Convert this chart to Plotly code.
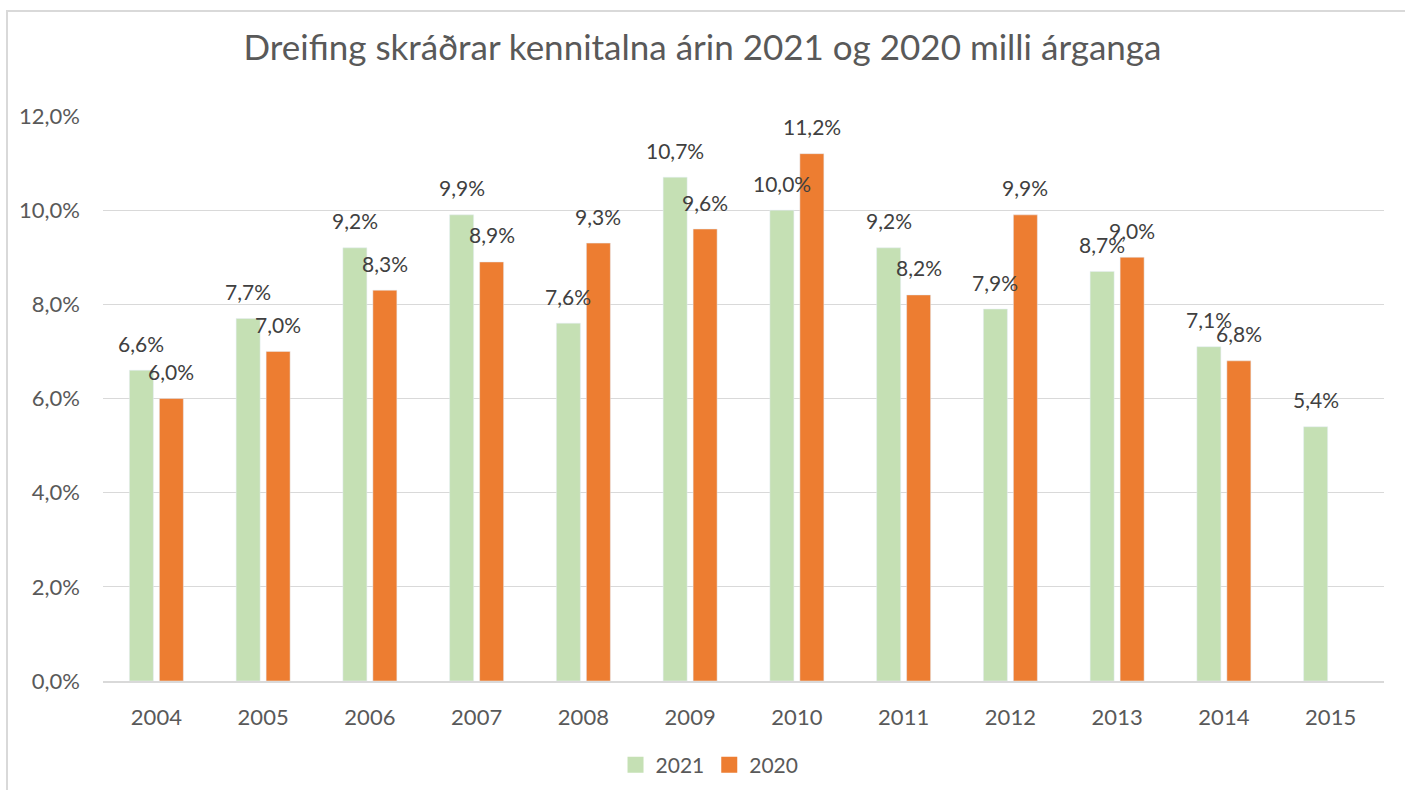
import plotly.graph_objects as go

years = ["2004", "2005", "2006", "2007", "2008", "2009", "2010", "2011", "2012", "2013", "2014", "2015"]
values_2021 = [6.6, 7.7, 9.2, 9.9, 7.6, 10.7, 10.0, 9.2, 7.9, 8.7, 7.1, 5.4]
values_2020 = [6.0, 7.0, 8.3, 8.9, 9.3, 9.6, 11.2, 8.2, 9.9, 9.0, 6.8, None]
series_names = ["2021", "2020"]
title_text = "Dreifing skráðrar kennitalna árin 2021 og 2020 milli árganga"

FONT = "Lato"
TXT = "#595959"
LBL = "#404040"
FS = 21
COLORS = ["#C5E0B4", "#ED7D31"]

fig = go.Figure()
for name, vals, col in zip(series_names, (values_2021, values_2020), COLORS):
    fig.add_trace(go.Bar(x=years, y=vals, name=name, marker_color=col,
                         showlegend=False, legendgroup=name))
# legend entries with larger square swatches
for name, col in zip(series_names, COLORS):
    fig.add_trace(go.Scatter(x=[None], y=[None], mode="markers", name=name,
                             legendgroup=name,
                             marker=dict(symbol="square", size=16, color=col)))

annotations = []
for vals, xs in ((values_2021, -15), (values_2020, 15)):
    for i, v in enumerate(vals):
        if v is None:
            continue
        annotations.append(dict(
            x=i, y=v, xref="x", yref="y", text=f"{v:.1f}%".replace(".", ","),
            showarrow=False, xshift=xs, yshift=27, xanchor="center", yanchor="middle",
            font=dict(family=FONT, size=FS, color=LBL)))

fig.update_layout(
    width=1405, height=790,
    separators=",.",
    paper_bgcolor="white", plot_bgcolor="white",
    margin=dict(l=103, r=21, t=116, b=109, autoexpand=False),
    barmode="group", bargap=0.438, bargroupgap=0.2,
    font=dict(family=FONT, size=FS, color=TXT),
    title=dict(text=title_text, x=0.5, xanchor="center", xref="container",
               y=1 - 48 / 790, yanchor="middle",
               font=dict(family=FONT, size=35, color=TXT)),
    showlegend=True,
    legend=dict(orientation="h", xref="container", x=0.505, xanchor="center",
                yref="container", y=1 - 765 / 790, yanchor="middle",
                font=dict(family=FONT, size=FS, color=TXT), traceorder="normal",
                itemwidth=30, itemclick=False, itemdoubleclick=False),
    xaxis=dict(type="category", range=[-0.5, len(years) - 0.5], autorange=False,
               showgrid=False, showline=True, linecolor="#D9D9D9", linewidth=2,
               ticks="", ticklabelstandoff=16, automargin=False,
               tickfont=dict(family=FONT, size=FS + 1, color=TXT)),
    yaxis=dict(range=[0, 12], dtick=2, tickformat=".1f", ticksuffix="%",
               showgrid=True, gridcolor="#D9D9D9", gridwidth=1, zeroline=False,
               showline=False, ticks="", ticklabelstandoff=22, automargin=False,
               tickfont=dict(family=FONT, size=FS + 1, color=TXT)),
    annotations=annotations,
    shapes=[dict(type="rect", xref="paper", yref="paper",
                 x0=(7 - 103) / 1281, x1=(1410 - 103) / 1281,
                 y0=(681 - 800) / 565, y1=(681 - 11) / 565,
                 line=dict(color="#D9D9D9", width=2), fillcolor="rgba(0,0,0,0)", layer="below")],
)

fig.write_html("out.html")
